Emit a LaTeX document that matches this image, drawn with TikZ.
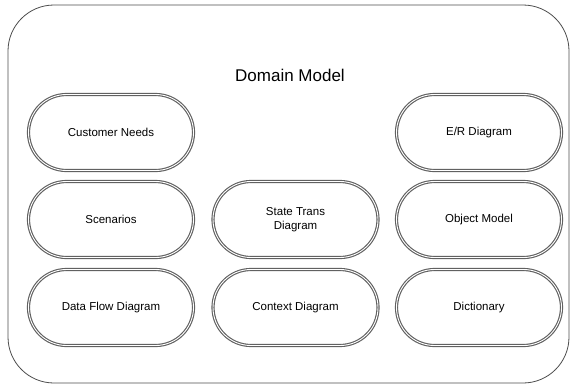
\documentclass[tikz,border=0pt]{standalone}
\usepackage{fontspec}
\setmainfont{Liberation Sans}
\tikzset{
  frame/.style={draw=black!70, line width=0.8pt, rounded corners=46pt,
    minimum width=561pt, minimum height=378pt, inner sep=0pt},
  pill/.style={draw=black!62, double=white, double distance=0.9pt, line width=1.15pt,
    rounded corners=38pt, minimum width=165pt, minimum height=76pt,
    inner sep=2pt, align=center, font=\fontsize{11.5}{13.5}\selectfont},
  heading/.style={font=\fontsize{17}{20}\selectfont}
}
\begin{document}
\begin{tikzpicture}[x=1pt,y=-1pt]
  \useasboundingbox (0,0) rectangle (572,386);
  \node[frame] (frame) at (288.5,194) {};
  \node[heading] (title) at (290,75) {Domain Model};
  % left column
  \node[pill] (needs) at (111,132.5) {Customer Needs};
  \node[pill] (scen) at (111,219.5) {Scenarios};
  \node[pill] (dfd) at (111,307.5) {Data Flow Diagram};
  % middle column
  \node[pill] (std) at (295.5,219.5) {State Trans\\Diagram};
  \node[pill] (ctx) at (295.5,307.5) {Context Diagram};
  % right column
  \node[pill] (er) at (479,132.5) {E/R Diagram};
  \node[pill] (obj) at (479,219.5) {Object Model};
  \node[pill] (dict) at (479,307.5) {Dictionary};
\end{tikzpicture}
\end{document}
